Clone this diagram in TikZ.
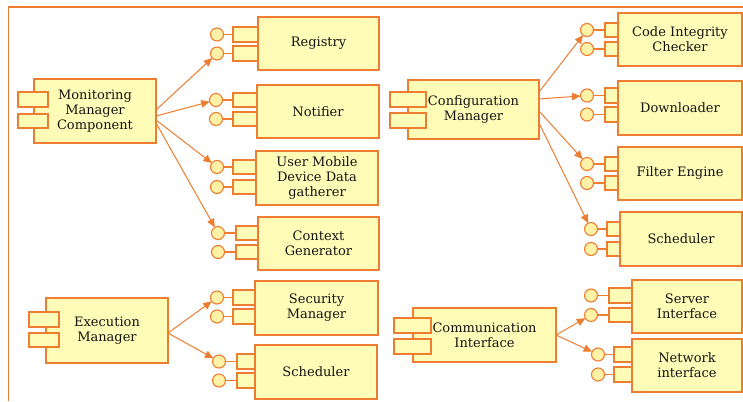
\documentclass[tikz,border=0pt]{standalone}
\usepackage{fontspec}
\setmainfont{DejaVu Serif}
\usetikzlibrary{arrows.meta}
\definecolor{ocol}{HTML}{ED7D31}
\definecolor{ycol}{HTML}{FFFCB8}
\definecolor{pcol}{HTML}{FFF2A6}
\definecolor{tcol}{HTML}{141414}
\newcommand\compfont{\fontsize{13}{15}\selectfont}
% rectangle node given by its corners: style, name, x1, y1, x2, y2, text
\newcommand\rbox[7]{\node[#1, minimum width={(#5-#3)*1pt}, minimum height={(#6-#4)*1pt}] (#2) at ({(#3+#5)/2},{(#4+#6)/2}) {#7};}
% provided interface: name, circle x, tab left, tab right, tab top, tab bottom
\newcommand\iface[6]{%
  \rbox{tabbox}{#1t}{#3}{#5}{#4}{#6}{}
  \node[port] (#1c) at (#2,{(#5+#6)/2}) {};
  \draw[link] (#1c) -- (#1t);}
\tikzset{
  unit/.style={draw=ocol, fill=ycol, line width=1.1pt, inner sep=0pt, outer sep=0pt,
    align=center, font=\compfont, text=tcol},
  tabbox/.style={draw=ocol, fill=ycol, line width=1.1pt, inner sep=0pt, outer sep=0pt},
  port/.style={circle, draw=ocol, fill=pcol, line width=1.1pt, minimum size=13pt,
    inner sep=0pt, outer sep=0pt},
  link/.style={draw=ocol, line width=1.1pt},
  dep/.style={draw=ocol, line width=1pt, -{Triangle[length=8.5pt,width=7.5pt]}},
}
\begin{document}
\begin{tikzpicture}[x=1pt, y=-1pt]
\useasboundingbox[fill=white] (0,0) rectangle (743,401);
% outer frame
\draw[ocol, line width=1.1pt] (743,7) -- (8.5,7) -- (8.5,401);

% ---- Monitoring manager and its parts
\rbox{unit}{mon}{34}{79}{156}{143}{Monitoring\\Manager\\Component}
\rbox{tabbox}{mon1}{18}{92}{48}{107}{}
\rbox{tabbox}{mon2}{18}{114}{48}{128}{}

\rbox{unit}{reg}{258}{17}{379}{70}{Registry}
\iface{reg1}{217}{233}{258}{27}{42}
\iface{reg2}{217}{233}{258}{46}{61}

\rbox{unit}{ntf}{257}{85}{379}{138}{Notifier}
\iface{ntf1}{216}{233}{257}{93}{107}
\iface{ntf2}{216}{233}{257}{112}{126}

\rbox{unit}{umd}{256}{151}{378}{205}{User Mobile\\Device Data\\gatherer}
\iface{umd1}{217}{233}{256}{160}{174}
\iface{umd2}{217}{233}{256}{180}{194}

\rbox{unit}{ctx}{258}{217}{379}{270}{Context\\Generator}
\iface{ctx1}{218}{236}{258}{226}{240}
\iface{ctx2}{218}{236}{258}{245}{259}

\draw[dep] ([yshift=1pt]mon.east) -- (reg2c);
\draw[dep] ([yshift=-5pt]mon.east) -- (ntf1c);
\draw[dep] ([yshift=-9pt]mon.east) -- (umd1c);
\draw[dep] ([yshift=-12pt]mon.east) -- (ctx1c);

% ---- Execution manager and its parts
\rbox{unit}{exe}{46}{298}{168}{363}{Execution\\Manager}
\rbox{tabbox}{exe1}{29}{312}{59}{327}{}
\rbox{tabbox}{exe2}{29}{333}{59}{347}{}

\rbox{unit}{sec}{255}{281}{378}{335}{Security\\Manager}
\iface{sec1}{217}{233}{255}{290}{305}
\iface{sec2}{217}{233}{255}{309}{324}

\rbox{unit}{sca}{255}{345}{377}{399}{Scheduler}
\iface{sca1}{219}{237}{255}{354}{369}
\iface{sca2}{219}{237}{255}{373}{388}

\draw[dep] ([yshift=-2.5pt]exe.east) -- (sec1c);
\draw[dep] ([yshift=-2.5pt]exe.east) -- (sca1c);

% ---- Configuration manager and its parts
\rbox{unit}{cfg}{408}{80}{539}{139}{Configuration\\Manager}
\rbox{tabbox}{cfg1}{390}{92}{426}{107}{}
\rbox{tabbox}{cfg2}{390}{113}{426}{128}{}

\rbox{unit}{cic}{618}{13}{742}{66}{Code Integrity\\Checker}
\iface{cic1}{587}{605}{618}{23}{37}
\iface{cic2}{587}{605}{618}{42}{56}

\rbox{unit}{dwn}{618}{81}{742}{135}{Downloader}
\iface{dwn1}{587}{605}{618}{88}{103}
\iface{dwn2}{587}{605}{618}{107}{122}

\rbox{unit}{fil}{618}{147}{742}{200}{Filter Engine}
\iface{fil1}{587}{605}{618}{157}{171}
\iface{fil2}{587}{605}{618}{176}{190}

\rbox{unit}{scb}{620}{212}{742}{266}{Scheduler}
\iface{scb1}{591}{607}{620}{222}{236}
\iface{scb2}{591}{607}{620}{242}{256}

\draw[dep] ([yshift=17.5pt]cfg.east) -- (cic1c);
\draw[dep] ([yshift=10.5pt]cfg.east) -- (dwn1c);
\draw[dep] ([yshift=-1.5pt]cfg.east) -- (fil1c);
\draw[dep] ([yshift=-13.5pt]cfg.east) -- (scb1c);

% ---- Communication interface and its parts
\rbox{unit}{com}{413}{308}{556}{362}{Communication\\Interface}
\rbox{tabbox}{com1}{394}{318}{431}{333}{}
\rbox{tabbox}{com2}{394}{339}{431}{354}{}

\rbox{unit}{srv}{632}{280}{742}{333}{Server\\Interface}
\iface{srv1}{591}{609}{632}{288}{303}
\iface{srv2}{591}{609}{632}{308}{322}

\rbox{unit}{net}{632}{339}{742}{392}{Network\\interface}
\iface{net1}{598}{614}{632}{347}{362}
\iface{net2}{598}{614}{632}{367}{382}

\draw[dep] (com.east) -- (srv2c);
\draw[dep] (com.east) -- (net1c);
\end{tikzpicture}
\end{document}
